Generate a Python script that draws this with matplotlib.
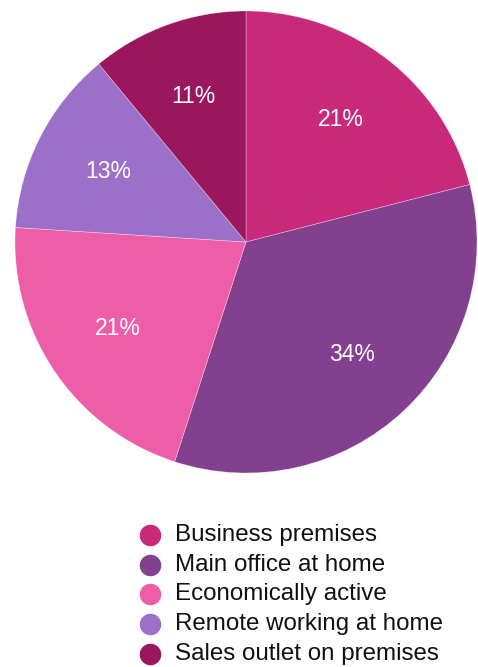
import matplotlib
matplotlib.use("Agg")
import matplotlib.pyplot as plt
from matplotlib.lines import Line2D

plt.rcParams['font.family'] = ['Liberation Sans', 'DejaVu Sans']

# share of businesses by location type (percent)
categories = ["Business premises", "Main office at home", "Economically active",
              "Remote working at home", "Sales outlet on premises"]
shares = [21, 34, 21, 13, 11]
colors = ["#C9297A", "#82408E", "#EE5DA7", "#9C70C8", "#9A175D"]

W, H = 478, 667
fig = plt.figure(figsize=(W / 100, H / 100), dpi=100)

# pie centred at (246, 242) px with radius 231 px
cx, cy, r = 246, 242, 231
ax = fig.add_axes([(cx - r) / W, (H - cy - r) / H, 2 * r / W, 2 * r / H])
ax.pie(shares, colors=colors, startangle=90, counterclock=False, radius=1,
       autopct=lambda p: f"{p:.0f}%", pctdistance=0.67,
       wedgeprops=dict(edgecolor=(1, 1, 1, 0.4), linewidth=0.5),
       textprops=dict(color="white", fontsize=16.5))
ax.set_xlim(-1, 1)
ax.set_ylim(-1, 1)
ax.set_aspect("equal")
ax.axis("off")

# legend rows drawn by hand
row_top, row_step = 535, 29.7
for i, (name, col) in enumerate(zip(categories, colors)):
    y = 1 - (row_top + i * row_step) / H
    fig.add_artist(Line2D([150 / W], [y], marker="o", markersize=14.5,
                          markerfacecolor=col, markeredgecolor=col,
                          transform=fig.transFigure))
    fig.text(175 / W, y, name, fontsize=17.4, color="#111111", va="center", ha="left")

fig.savefig("out.png", dpi=100)
